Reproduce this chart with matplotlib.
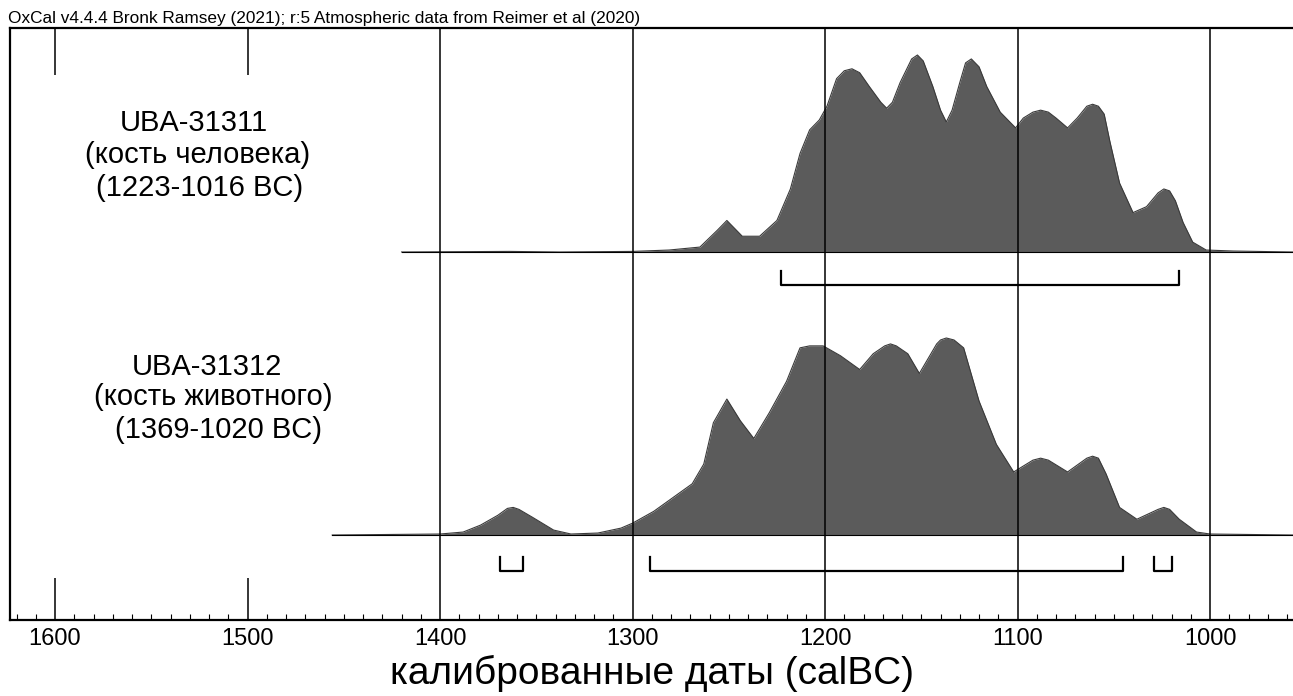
import matplotlib.pyplot as plt
from matplotlib.ticker import MultipleLocator

plt.rcParams['font.family'] = ['Liberation Sans', 'DejaVu Sans']

# UBA-31311: relative probability (% of peak), calBC
years_1 = [1420, 1364, 1338, 1300, 1281, 1265, 1256, 1251, 1247, 1243, 1234, 1225,
           1218, 1213, 1208, 1203, 1199, 1194, 1190, 1186, 1182, 1177, 1171, 1168,
           1165, 1161, 1155, 1152, 1149, 1144, 1140, 1137, 1134, 1130, 1127, 1124,
           1120, 1116, 1109, 1101, 1097, 1092, 1088, 1084, 1080, 1074, 1069, 1064,
           1061, 1058, 1055, 1052, 1047, 1040, 1033, 1027, 1024, 1021, 1018, 1014,
           1009, 1002, 988, 957]
prob_1 = [0, 0.3, 0, 0.3, 1, 2.5, 11, 16, 12, 8, 8, 16,
          32, 50, 62, 67, 74, 88, 92, 93, 91, 84, 76, 73,
          76, 86, 98, 100, 97, 84, 72, 66, 72, 86, 96, 98,
          94, 84, 71, 63, 68, 71, 72, 71, 68, 63, 68, 74,
          75, 74, 70, 56, 35, 20, 23, 30, 32, 31, 26, 15,
          5, 1, 0.5, 0]

# UBA-31312
years_2 = [1456, 1400, 1388, 1379, 1370, 1365, 1362, 1359, 1352, 1341, 1332, 1318,
           1306, 1300, 1289, 1279, 1269, 1263, 1258, 1251, 1244, 1237, 1229, 1220,
           1213, 1208, 1201, 1192, 1182, 1175, 1169, 1166, 1163, 1157, 1151, 1142,
           1140, 1137, 1133, 1128, 1120, 1111, 1102, 1092, 1088, 1084, 1074, 1064,
           1061, 1058, 1054, 1047, 1038, 1027, 1024, 1021, 1016, 1007, 1000, 957]
prob_2 = [0, 0.5, 1.5, 5, 10, 13.5, 14, 13, 9, 2.5, 0.5, 1,
          3.5, 6, 12, 19, 26, 36, 57, 69, 58, 49, 62, 78,
          95, 96, 96, 91, 84, 92, 96, 97, 96, 92, 82, 97,
          99, 100, 99, 95, 68, 46, 32, 38, 39, 38, 32, 39,
          40, 39, 31, 14, 8, 13, 14, 13, 8, 1.5, 0.5, 0]

# 95.4% ranges
ranges_1 = [(1223, 1016)]
ranges_2 = [(1369, 1357), (1291, 1045), (1029, 1020)]

labels_1 = ["UBA-31311", "(кость человека)", "(1223-1016 BC)"]
labels_2 = ["UBA-31312", "(кость животного)", "(1369-1020 BC)"]

tick_years = [1600, 1500, 1400, 1300, 1200, 1100, 1000]
grid_years = [1400, 1300, 1200, 1100, 1000]

fig = plt.figure(figsize=(12.93, 6.96), dpi=100)
ax = fig.add_axes([10 / 1293, 76 / 696, 1283 / 1293, 592 / 696])
ax.set_xlim(1623.4, 956.9)
ax.set_ylim(0, 592)

scale = 1.97
rows = [(years_1, prob_1, ranges_1, labels_1, 368, 335,
         [1528, 1526, 1525], [497, 465, 432]),
        (years_2, prob_2, ranges_2, labels_2, 85, 49,
         [1521, 1518, 1515], [253, 223, 190])]

for yrs, p, rng, lab, base, bar_y, lab_x, lab_y in rows:
    top = [base + v * scale for v in p]
    ax.fill_between(yrs, base, top, color='#5b5b5b', lw=0, zorder=2)
    ax.plot(yrs, top, color='#3a3a3a', lw=0.8, zorder=3)
    ax.plot([yrs[0], yrs[-1]], [base, base], color='black', lw=0.8, zorder=3)
    for a, b in rng:
        ax.plot([a, a, b, b], [bar_y + 14, bar_y, bar_y, bar_y + 14],
                color='black', lw=1.6, zorder=4)
    for txt, tx, ty in zip(lab, lab_x, lab_y):
        ax.text(tx, ty, txt, ha='center', va='center', fontsize=21)

for g in grid_years:
    ax.axvline(g, color='black', lw=1.1, zorder=4)
ax.vlines([1600, 1500], 0, 42, color='black', lw=1.1)
ax.vlines([1600, 1500], 592 - 47, 592, color='black', lw=1.1)

ax.set_xticks(tick_years)
ax.xaxis.set_minor_locator(MultipleLocator(10))
ax.tick_params(axis='x', which='major', length=0, pad=6, labelsize=17)
ax.tick_params(axis='x', which='minor', direction='in', length=4, width=0.8)
ax.set_yticks([])
ax.spines['right'].set_visible(False)
for s in ['left', 'top', 'bottom']:
    ax.spines[s].set_linewidth(1.6)

ax.set_xlabel("калиброванные даты (calBC)", fontsize=28, labelpad=3)

fig.text(8 / 1293, (696 - 23) / 696,
         "OxCal v4.4.4 Bronk Ramsey (2021); r:5 Atmospheric data from Reimer et al (2020)",
         fontsize=12.4, ha='left', va='baseline')

fig.savefig("out.png", dpi=100)
